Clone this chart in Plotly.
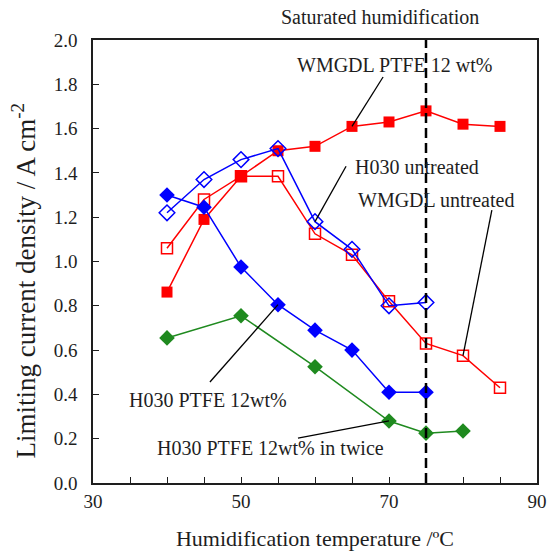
import plotly.graph_objects as go

temps = [40, 45, 50, 55, 60, 65, 70, 75, 80, 85]
wmgdl_ptfe = [0.862, 1.19, 1.385, 1.50, 1.52, 1.61, 1.63, 1.68, 1.62, 1.61]
wmgdl_untreated = [1.06, 1.28, 1.385, 1.385, 1.125, 1.03, 0.82, 0.63, 0.575, 0.43]
temps_h030 = [40, 45, 50, 55, 60, 65, 70, 75]
h030_untreated = [1.22, 1.37, 1.46, 1.51, 1.18, 1.055, 0.80, 0.815]
h030_ptfe = [1.30, 1.245, 0.975, 0.805, 0.69, 0.60, 0.41, 0.41]
temps_twice = [40, 50, 60, 70, 75, 80]
h030_twice = [0.655, 0.755, 0.525, 0.28, 0.225, 0.235]

x_ticks = [30, 35, 40, 45, 50, 55, 60, 65, 70, 75, 80, 85, 90]
x_labels = ["30", "", "", "", "50", "", "", "", "70", "", "", "", "90"]
y_ticks = [0.0, 0.2, 0.4, 0.6, 0.8, 1.0, 1.2, 1.4, 1.6, 1.8, 2.0]

FONT = "Liberation Serif, Times New Roman, serif"
INK = "#1e1e1e"
GREEN = "#1f8a1f"

fig = go.Figure()

fig.add_trace(go.Scatter(x=temps, y=wmgdl_ptfe, mode="lines+markers",
                         line=dict(color="#ff0000", width=1.5),
                         marker=dict(symbol="square", size=11, color="#ff0000"),
                         name="WMGDL PTFE 12 wt%"))
fig.add_trace(go.Scatter(x=temps, y=wmgdl_untreated, mode="lines+markers",
                         line=dict(color="#ff0000", width=1.5),
                         marker=dict(symbol="square-open", size=11, color="#ff0000",
                                     line=dict(width=1.5)),
                         name="WMGDL untreated"))
fig.add_trace(go.Scatter(x=temps_h030, y=h030_untreated, mode="lines+markers",
                         line=dict(color="#0000ff", width=1.5),
                         marker=dict(symbol="diamond-open", size=12, color="#0000ff",
                                     line=dict(width=1.5)),
                         name="H030 untreated"))
fig.add_trace(go.Scatter(x=temps_h030, y=h030_ptfe, mode="lines+markers",
                         line=dict(color="#0000ff", width=1.5),
                         marker=dict(symbol="diamond", size=12, color="#0000ff"),
                         name="H030 PTFE 12wt%"))
fig.add_trace(go.Scatter(x=temps_twice, y=h030_twice, mode="lines+markers",
                         line=dict(color=GREEN, width=1.5),
                         marker=dict(symbol="diamond", size=12, color=GREEN),
                         name="H030 PTFE 12wt% in twice"))

fig.add_shape(type="line", xref="x", yref="paper", x0=75, x1=75, y0=0, y1=1,
              line=dict(color="black", width=2.5, dash="10px,5px"))

# annotations: (text, text x, text y, point x, point y, line start x, line start y)
ann = [
    ("WMGDL PTFE 12 wt%", 70.8, 1.887, 65, 1.61, 69.2, 1.833),
    ("H030 untreated", 73.8, 1.427, 60, 1.18, 64.2, 1.43),
    ("WMGDL untreated", 76.35, 1.278, 80, 0.575, 83.9, 1.232),
    ("H030 PTFE 12wt%", 45.5, 0.375, 55, 0.805, 45.8, 0.456),
    ("H030 PTFE 12wt% in twice", 54.05, 0.158, 70, 0.28, 57.7, 0.203),
]
for text, tx, ty, px, py, lx, ly in ann:
    fig.add_shape(type="line", xref="x", yref="y", x0=lx, y0=ly, x1=px, y1=py,
                  line=dict(color="black", width=1.3))
    fig.add_annotation(x=tx, y=ty, xref="x", yref="y", text=text, showarrow=False,
                       font=dict(family=FONT, size=20, color=INK))

fig.add_annotation(x=68.8, y=1.0, xref="x", yref="paper", yshift=23, yanchor="middle",
                   text="Saturated humidification",
                   showarrow=False, font=dict(family=FONT, size=20, color=INK))

# y-axis title as a rotated annotation (placed a little below the axis centre, as in the original)
fig.add_annotation(x=0, xref="paper", xshift=-69, xanchor="center",
                   y=0.455, yref="paper", yanchor="middle",
                   text="Limiting current density / A cm<sup>-2</sup>", textangle=-90,
                   showarrow=False, font=dict(family=FONT, size=27, color=INK))

fig.update_layout(
    width=556, height=551,
    margin=dict(l=93, r=19, t=40, b=68),
    plot_bgcolor="white", paper_bgcolor="white",
    showlegend=False,
    font=dict(family=FONT, size=19, color=INK),
    xaxis=dict(range=[30, 90], tickvals=x_ticks, ticktext=x_labels,
               ticks="inside", ticklen=6, tickwidth=1.3, tickcolor=INK,
               showline=True, linecolor=INK, linewidth=1.5, mirror=True,
               showgrid=False, zeroline=False, automargin=False,
               title=dict(text="Humidification temperature /ºC", font=dict(size=22), standoff=22),
               tickfont=dict(size=19)),
    yaxis=dict(range=[0, 2.0], tickvals=y_ticks, tickformat=".1f",
               ticks="inside", ticklen=6, tickwidth=1.3, tickcolor=INK,
               showline=True, linecolor=INK, linewidth=1.5, mirror=True,
               showgrid=False, zeroline=False, automargin=False,
               ticklabelstandoff=10,
               tickfont=dict(size=19)),
)

fig.write_html("out.html", config={"displayModeBar": False},
               post_script="document.body.style.margin='0';")
